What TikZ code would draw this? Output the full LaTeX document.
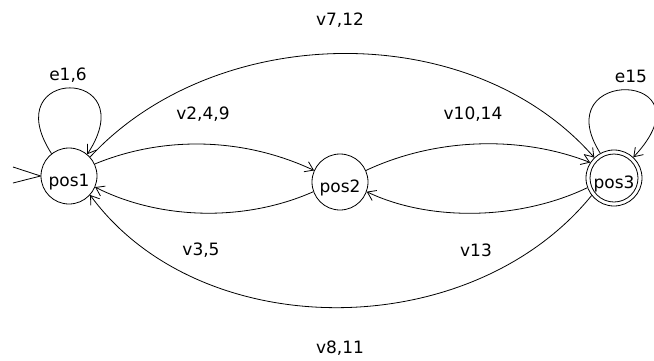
\documentclass[tikz,border=0pt]{standalone}
\usepackage{fontspec}
\setmainfont{DejaVu Sans}
\usetikzlibrary{arrows.meta}
\begin{document}
\begin{tikzpicture}[x=1pt,y=-1pt,
  state/.style={circle,draw,line width=0.8pt,minimum size=56pt,inner sep=0pt,text height=20pt,text depth=0pt,font=\fontsize{17}{17}\selectfont},
  lbl/.style={font=\fontsize{17}{17}\selectfont,inner sep=0pt},
  edge/.style={line width=0.8pt,-{Straight Barb[length=8pt,width=11pt]}},
]
\useasboundingbox (0,0) rectangle (654,360);
\fill[white] (0,0) rectangle (654,360);
% states
\node[state] (pos1) at (69,176) {pos1};
\node[state] (pos2) at (340,182) {pos2};
\node[state] (pos3) at (614,178) {pos3};
\draw[line width=0.8pt] (pos3.center) circle[radius=24pt];
% initial arrow
\coordinate (i1) at (13,167);
\coordinate (i2) at (13,183);
\draw[line width=0.8pt] (i1) -- (pos1.west);
\draw[line width=0.8pt] (i2) -- (pos1.west);
% edges
\draw[edge] (pos1.25) .. controls (165,135) and (245,138) .. (pos2.156);
\draw[edge] (pos2.200) .. controls (245,222) and (160,220) .. (pos1.-23);
\draw[edge] (pos2.24) .. controls (435,138) and (520,135) .. (pos3.147);
\draw[edge] (pos3.200) .. controls (520,220) and (430,222) .. (pos2.-20);
\draw[edge] (pos1.42) .. controls (215,22) and (470,16) .. (pos3.134);
\draw[edge] (pos3.-142) .. controls (470,345) and (200,345) .. (pos1.-42);
% loops
\draw[edge] (pos1.128) .. controls (-5,66) and (145,66) .. (pos1.50);
\draw[edge] (pos3.119) .. controls (545,66) and (715,70) .. (pos3.47);
% labels
\node[lbl] (le16) at (68,75) {e1,6};
\node[lbl] (le15) at (631,76) {e15};
\node[lbl] (lv712) at (340,20) {v7,12};
\node[lbl] (lv249) at (203,114) {v2,4,9};
\node[lbl] (lv1014) at (473,114) {v10,14};
\node[lbl] (lv35) at (201,250) {v3,5};
\node[lbl] (lv13) at (476,250) {v13};
\node[lbl] (lv811) at (340,348) {v8,11};
\end{tikzpicture}
\end{document}
